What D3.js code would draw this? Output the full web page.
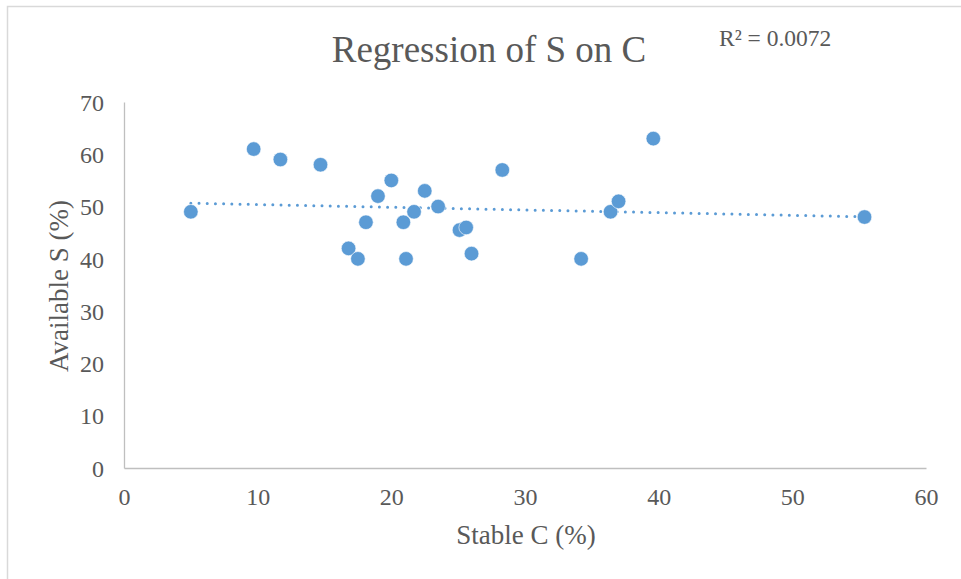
<!DOCTYPE html>
<html>
<head>
<meta charset="utf-8">
<script src="https://cdn.jsdelivr.net/npm/d3@7"></script>
<style>
  body { margin: 0; background: #fff; }
  svg { display: block; font-family: "Liberation Serif", "Times New Roman", serif; }
</style>
</head>
<body>
<script>
"use strict";
(function(){
    // values
    const stableC = [5.0, 9.7, 11.7, 14.7, 16.8, 17.5, 18.1, 19.0, 20.0, 20.9, 21.1, 21.7,
                     22.5, 23.5, 25.1, 25.6, 26.0, 28.3, 34.2, 36.4, 37.0, 39.6, 55.4]
    const availS  = [49, 61, 59, 58, 42, 40, 47, 52, 55, 47, 40, 49,
                     53, 50, 45.5, 46, 41, 57, 40, 49, 51, 63, 48]
    const xTicks = [0, 10, 20, 30, 40, 50, 60]
    const yTicks = [0, 10, 20, 30, 40, 50, 60, 70]
    const title = "Regression of S on C"
    const r2Label = "R² = 0.0072"

    const measurements = { width: 961, height: 579, left: 124, right: 926, top: 102, bottom: 468 }
    const textColor = "#595959"
    const dotColor = "#5b9bd5"

    const svg = d3.select("body").append("svg")
        .attr("width", measurements.width)
        .attr("height", measurements.height)

    // chart border (only top and left edges fall inside the picture)
    svg.append("rect")
        .attr("x", 7.5).attr("y", 6.5)
        .attr("width", 1000).attr("height", 1000)
        .attr("fill", "none")
        .attr("stroke", "#d9d9d9")
        .attr("stroke-width", 1.5)

    const scaleX = d3.scaleLinear().domain([0, 60]).range([measurements.left, measurements.right])
    const scaleY = d3.scaleLinear().domain([0, 70]).range([measurements.bottom, measurements.top])

    // axes
    const xAxis = svg.append("g")
        .attr("transform", "translate(0," + measurements.bottom + ")")
        .call(d3.axisBottom(scaleX).tickValues(xTicks).tickSize(0).tickPadding(20))
    const yAxis = svg.append("g")
        .attr("transform", "translate(" + measurements.left + ",0)")
        .call(d3.axisLeft(scaleY).tickValues(yTicks).tickSize(0).tickPadding(20))

    ;[xAxis, yAxis].forEach(function(a) {
        a.select(".domain").attr("stroke", "#bfbfbf").attr("stroke-width", 1.3)
        a.selectAll("text")
            .attr("fill", textColor)
            .style("font-size", "24px")
            .style("font-family", "Liberation Serif, serif")
    })
    xAxis.selectAll("text").attr("dy", "0.71em")
    yAxis.selectAll("text").attr("dy", "0.34em")

    // trend line from least squares fit
    const n = stableC.length
    const mx = d3.mean(stableC), my = d3.mean(availS)
    let sxy = 0, sxx = 0
    for (let i = 0; i < n; i++) {
        sxy += (stableC[i] - mx) * (availS[i] - my)
        sxx += (stableC[i] - mx) * (stableC[i] - mx)
    }
    const slope = sxy / sxx
    const intercept = my - slope * mx
    const xMin = d3.min(stableC), xMax = d3.max(stableC)

    svg.append("line")
        .attr("x1", scaleX(xMin)).attr("y1", scaleY(intercept + slope * xMin))
        .attr("x2", scaleX(xMax)).attr("y2", scaleY(intercept + slope * xMax))
        .attr("stroke", dotColor)
        .attr("stroke-width", 3)
        .attr("stroke-linecap", "round")
        .attr("stroke-dasharray", "0 8.2")

    // points
    svg.selectAll(".dot")
        .data(stableC.map((c, i) => ({ c: c, s: availS[i] })))
        .enter()
        .append("circle")
            .attr("class", "dot")
            .attr("cx", d => scaleX(d.c))
            .attr("cy", d => scaleY(d.s))
            .attr("r", 7.3)
            .attr("fill", dotColor)
            .attr("stroke", "#fff")
            .attr("stroke-width", 0.6)

    // titles
    svg.append("text")
        .attr("x", 489).attr("y", 62)
        .attr("text-anchor", "middle")
        .attr("fill", textColor)
        .style("font-size", "37px")
        .text(title)

    svg.append("text")
        .attr("x", 719).attr("y", 46)
        .attr("fill", textColor)
        .style("font-size", "23.5px")
        .text(r2Label)

    svg.append("text")
        .attr("x", 526).attr("y", 544)
        .attr("text-anchor", "middle")
        .attr("fill", textColor)
        .style("font-size", "27px")
        .text("Stable C (%)")

    svg.append("text")
        .attr("transform", "translate(68,286) rotate(-90)")
        .attr("text-anchor", "middle")
        .attr("fill", textColor)
        .style("font-size", "27px")
        .text("Available S (%)")
})()
</script>
</body>
</html>
